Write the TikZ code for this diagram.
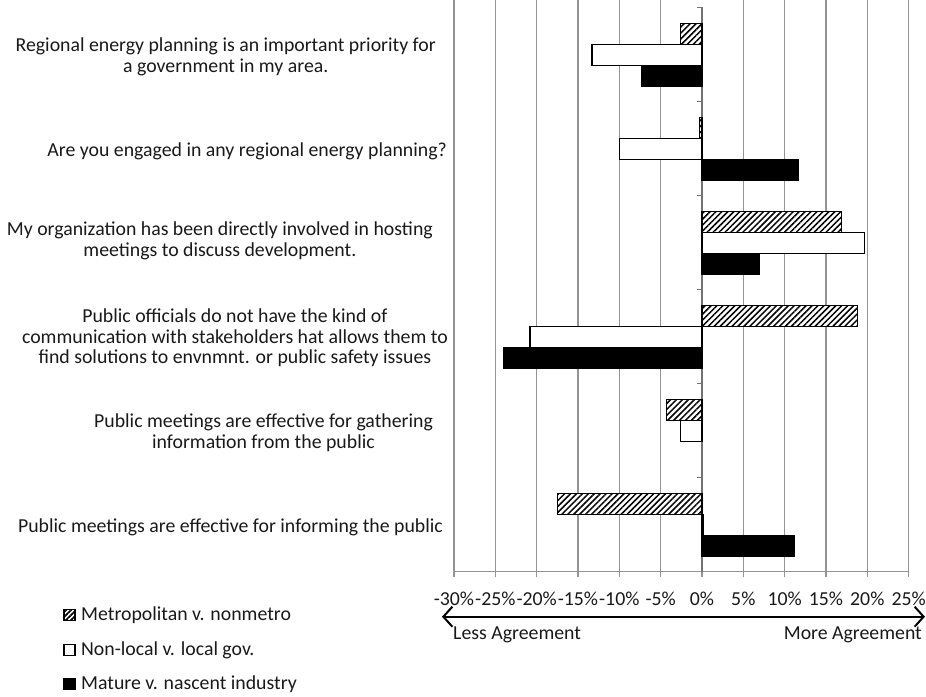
\documentclass[tikz,border=0pt]{standalone}
\usepackage{fontspec}
\setmainfont{Carlito}
\usetikzlibrary{patterns.meta,arrows.meta}
\newcommand\mybar[4]{%
  \pgfmathsetmacro\myyt{7.3+94.07*#1+16+21*#2}%
  \draw[#4] (702,\myyt) rectangle ({702+8.267*(#3)},\myyt+21);%
}
\begin{document}
\begin{tikzpicture}[x=1pt,y=-1pt,
  txt/.style={font=\fontsize{19.8}{20.5}\selectfont, text=black!90, inner sep=0pt},
  qlabel/.style={txt, align=center, anchor=east},
  grid/.style={draw=black!42, line width=1.3pt},
  zeroaxis/.style={draw=black!55, line width=2pt},
  hatchbar/.style={draw=black, line width=1.2pt, preaction={fill=white}, pattern={Lines[angle=45,distance=4.2pt,line width=1.5pt]}},
  whitebar/.style={draw=black, line width=1.2pt, fill=white},
  blackbar/.style={draw=black, line width=1.2pt, fill=black},
  legicon/.style={draw=black, line width=1.2pt, minimum size=11pt, inner sep=0pt}]
\useasboundingbox (0,0) rectangle (926,696);
% gridlines
\foreach \i in {0,...,5,7,8,9,10,11}{
  \draw[grid] ({454+41.33*\i},0) -- ({454+41.33*\i},571.7);
}
% bottom axis and ticks
\draw[grid] (454,571.7) -- (908,571.7);
\foreach \i in {0,...,11}{
  \draw[grid] ({454+41.33*\i},571.7) -- ({454+41.33*\i},577);
}
% zero axis
\draw[zeroaxis] (702,7.3) -- (702,571.7);
\foreach \k in {0,...,5}{
  \draw[zeroaxis, line width=1.3pt] (697,{7.3+94.07*\k}) -- (702,{7.3+94.07*\k});
}
% bars: category, slot, value, style
\mybar{0}{0}{-2.6}{hatchbar}
\mybar{0}{1}{-13.3}{whitebar}
\mybar{0}{2}{-7.3}{blackbar}
\mybar{1}{0}{-0.3}{hatchbar}
\mybar{1}{1}{-10.0}{whitebar}
\mybar{1}{2}{11.7}{blackbar}
\mybar{2}{0}{16.9}{hatchbar}
\mybar{2}{1}{19.7}{whitebar}
\mybar{2}{2}{6.9}{blackbar}
\mybar{3}{0}{18.8}{hatchbar}
\mybar{3}{1}{-20.8}{whitebar}
\mybar{3}{2}{-24.0}{blackbar}
\mybar{4}{0}{-4.3}{hatchbar}
\mybar{4}{1}{-2.6}{whitebar}
\mybar{5}{0}{-17.5}{hatchbar}
\mybar{5}{1}{0.15}{whitebar}
\mybar{5}{2}{11.2}{blackbar}
% category labels
\node[qlabel] (q1) at (436,57) {Regional energy planning is an important priority for\\a government in my area.};
\node[qlabel] (q2) at (447,151.5) {Are you engaged in any regional energy planning?};
\node[qlabel] (q3) at (433,241) {My organization has been directly involved in hosting\\meetings to discuss development.};
\node[qlabel] (q4) at (448,338) {Public officials do not have the kind of\\communication with stakeholders hat allows them to\\find solutions to envnmnt. or public safety issues};
\node[qlabel] (q5) at (433,432.5) {Public meetings are effective for gathering\\information from the public};
\node[qlabel] (q6) at (443,527) {Public meetings are effective for informing the public};
% tick labels
\foreach \v [count=\i from 0] in {-30\%,-25\%,-20\%,-15\%,-10\%,-5\%,0\%,5\%,10\%,15\%,20\%,25\%}{
  \node[txt] (t\i) at ({454+41.33*\i},599) {\v};
}
% arrow
\coordinate (al) at (442,616.7);
\coordinate (ar) at (925,616.7);
\draw[line width=2pt, {Straight Barb[length=9pt,width=20pt]}-{Straight Barb[length=9pt,width=20pt]}] (al) -- (ar);
\node[txt, anchor=west] (less) at (453,635) {Less Agreement};
\node[txt, anchor=east] (more) at (922,635) {More Agreement};
% legend
\node[legicon, preaction={fill=white}, pattern={Lines[angle=45,distance=3.5pt,line width=1.8pt]}] (l1) at (69.5,615) {};
\node[legicon, fill=white] (l2) at (69.5,650) {};
\node[legicon, fill=black] (l3) at (69.5,684) {};
\node[txt, anchor=west] (lt1) at (81,615) {Metropolitan v. nonmetro};
\node[txt, anchor=west] (lt2) at (81,650) {Non-local v. local gov.};
\node[txt, anchor=west] (lt3) at (81,684) {Mature v. nascent industry};
\end{tikzpicture}
\end{document}
